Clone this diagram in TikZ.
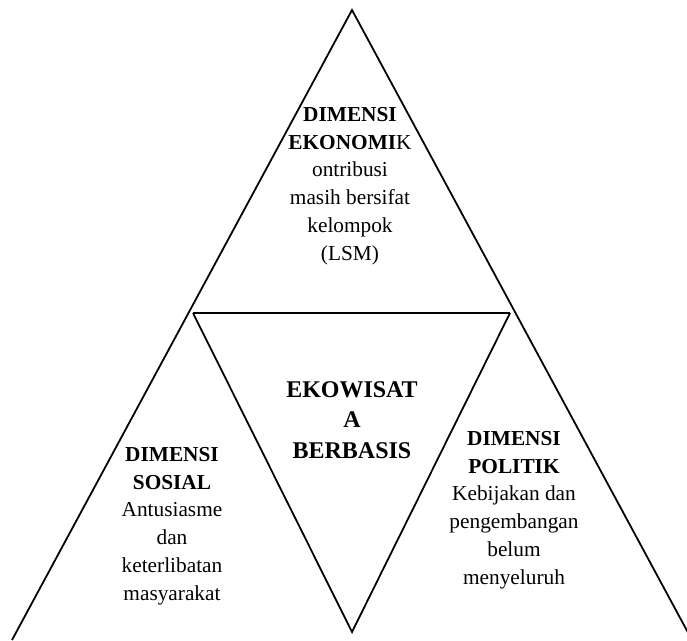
\documentclass[tikz,border=0pt]{standalone}
\usepackage{fontspec}
\setmainfont{Liberation Serif}
\usetikzlibrary{positioning}

\begin{document}
\begin{tikzpicture}[
		x=0.563pt, y=-0.563pt,
		sideline/.style={draw=black, line width=1pt},
		topline/.style={draw=black, line width=1.5pt},
		dimtext/.style={align=center, inner sep=0pt, font=\fontsize{12}{15.6}\selectfont},
		coretext/.style={align=center, inner sep=0pt, font=\bfseries\fontsize{13.5}{17.2}\selectfont},
		]
		\useasboundingbox (0,0) rectangle (687,640);

		%Corners
		\coordinate	(apex)		at (352,10);
		\coordinate	(outer_l)	at (12,640);
		\coordinate	(outer_r)	at (692,640);
		\coordinate	(inner_l)	at (193,313);
		\coordinate	(inner_r)	at (510,313);
		\coordinate	(inner_b)	at (352,632);

		%Triangles
		\draw[sideline]	(outer_l) -- (apex) -- (outer_r);
		\draw[sideline]	(inner_l) -- (inner_b) -- (inner_r);
		\draw[topline]	(inner_l) -- (inner_r);

		%Dimensions
		\node[dimtext]	(ekonomi)	at (350,186)	{\textbf{DIMENSI}\\\textbf{EKONOMI}K\\ontribusi\\masih bersifat\\kelompok\\(LSM)};
		\node[coretext]	(core)		at (352,420)	{EKOWISAT\\A\\BERBASIS};
		\node[dimtext]	(sosial)	at (172,526)	{\textbf{DIMENSI}\\\textbf{SOSIAL}\\Antusiasme\\dan\\keterlibatan\\masyarakat};
		\node[dimtext]	(politik)	at (514,510)	{\textbf{DIMENSI}\\\textbf{POLITIK}\\Kebijakan dan\\pengembangan\\belum\\menyeluruh};
	\end{tikzpicture}
\end{document}
